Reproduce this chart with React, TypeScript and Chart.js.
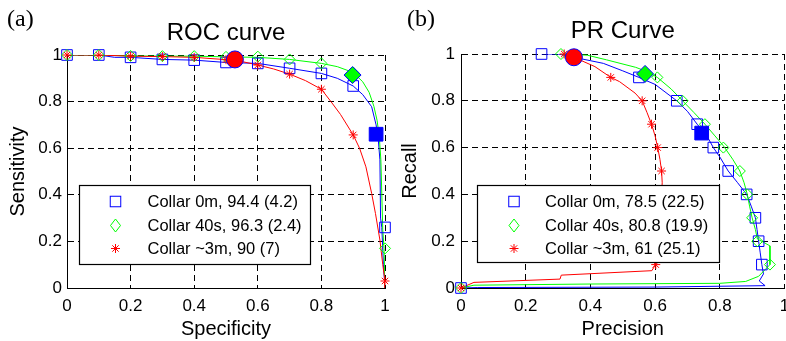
import React, { useEffect, useRef } from 'react';
import { Chart, registerables } from 'chart.js';

Chart.register(...registerables);

const FONT = '"Liberation Sans", Arial, Helvetica, sans-serif';
const SERIF = '"Liberation Serif", "Times New Roman", serif';
const BLUE = '#0000ff';
const GREEN = '#00ff00';
const RED = '#ff0000';

const tickValues = [0, 0.2, 0.4, 0.6, 0.8, 1];

// ---------- ROC panel ----------
const rocMarkerSpec = [0, 0.1, 0.2, 0.3, 0.4, 0.5, 0.6, 0.7, 0.8, 0.9, 1];
const rocBlueMarkerSens = [1, 1, 0.99, 0.981, 0.978, 0.968, 0.964, 0.943, 0.921, 0.867, 0.26];
const rocGreenMarkerSens = [1, 1, 0.996, 0.995, 0.995, 0.992, 0.993, 0.981, 0.964, 0.925, 0.17];
const rocRedMarkerSens = [1, 1, 0.995, 0.993, 0.99, 0.98, 0.957, 0.918, 0.853, 0.657, 0.03];

const rocBlueLineSpec = [0, 0.1, 0.15, 0.2, 0.3, 0.4, 0.5, 0.6, 0.7, 0.8, 0.85, 0.9, 0.93, 0.958, 0.972, 0.979, 0.984, 0.986, 0.99, 0.995, 1];
const rocBlueLineSens = [1, 1, 0.99, 0.99, 0.981, 0.978, 0.968, 0.964, 0.943, 0.921, 0.9, 0.867, 0.83, 0.778, 0.7, 0.635, 0.55, 0.3, 0.26, 0.1, 0];

const rocGreenLineSpec = [0, 0.1, 0.2, 0.3, 0.4, 0.5, 0.6, 0.7, 0.8, 0.85, 0.9, 0.93, 0.95, 0.965, 0.975, 0.982, 0.987, 0.99, 0.993, 0.997, 1];
const rocGreenLineSens = [1, 1, 0.996, 0.995, 0.995, 0.992, 0.99, 0.981, 0.964, 0.95, 0.925, 0.885, 0.84, 0.78, 0.72, 0.65, 0.55, 0.4, 0.25, 0.17, 0];

const rocRedLineSpec = [0, 0.1, 0.2, 0.3, 0.4, 0.5, 0.55, 0.6, 0.65, 0.7, 0.75, 0.8, 0.83, 0.86, 0.9, 0.92, 0.94, 0.958, 0.97, 0.984, 0.993, 1, 1];
const rocRedLineSens = [1, 1, 0.995, 0.993, 0.99, 0.98, 0.972, 0.957, 0.94, 0.918, 0.89, 0.853, 0.8, 0.745, 0.657, 0.6, 0.52, 0.406, 0.32, 0.206, 0.1, 0.03, 0];

// operating points: red, green, blue
const rocOpSpec = [0.528, 0.898, 0.972];
const rocOpSens = [0.981, 0.914, 0.66];

const rocLegend = ['Collar 0m, 94.4 (4.2)', 'Collar 40s, 96.3 (2.4)', 'Collar ~3m, 90 (7)'];

// ---------- PR panel ----------
const prMarkerRecall = [1, 0.9, 0.8, 0.7, 0.6, 0.5, 0.4, 0.3, 0.2, 0.1, 0];
const prBlueMarkerPrec = [0.249, 0.55, 0.667, 0.73, 0.78, 0.826, 0.883, 0.91, 0.92, 0.93, 0];
const prGreenMarkerPrec = [0.309, 0.607, 0.685, 0.754, 0.811, 0.862, 0.885, 0.9, 0.916, 0.955, 0];
const prRedMarkerPrec = [0.319, 0.463, 0.56, 0.589, 0.608, 0.62, 0.62, 0.615, 0.61, 0.602, 0];

const prBlueLinePrec = [0.249, 0.3, 0.349, 0.44, 0.5, 0.55, 0.6, 0.667, 0.7, 0.73, 0.76, 0.78, 0.8, 0.826, 0.855, 0.883, 0.897, 0.91, 0.915, 0.92, 0.925, 0.93, 0.935, 0.922, 0.94, 0.6, 0.05, 0];
const prBlueLineRecall = [1, 1, 0.986, 0.96, 0.928, 0.9, 0.87, 0.8, 0.755, 0.7, 0.65, 0.6, 0.56, 0.5, 0.45, 0.4, 0.35, 0.3, 0.25, 0.2, 0.15, 0.1, 0.06, 0.03, 0.01, 0.004, 0.002, 0];

const prGreenLinePrec = [0.309, 0.39, 0.45, 0.54, 0.575, 0.607, 0.65, 0.685, 0.72, 0.754, 0.785, 0.811, 0.84, 0.862, 0.875, 0.885, 0.892, 0.9, 0.91, 0.916, 0.955, 0.955, 0.92, 0.88, 0.8, 0.4, 0.04, 0];
const prGreenLineRecall = [1, 0.995, 0.975, 0.943, 0.925, 0.9, 0.85, 0.8, 0.75, 0.7, 0.65, 0.608, 0.55, 0.5, 0.45, 0.4, 0.35, 0.3, 0.25, 0.21, 0.18, 0.1, 0.05, 0.028, 0.02, 0.017, 0.012, 0];

const prRedLinePrec = [0.319, 0.349, 0.414, 0.463, 0.49, 0.538, 0.56, 0.575, 0.589, 0.6, 0.608, 0.615, 0.62, 0.622, 0.62, 0.615, 0.61, 0.602, 0.59, 0.31, 0.306, 0.04, 0];
const prRedLineRecall = [1, 0.986, 0.946, 0.9, 0.882, 0.833, 0.8, 0.75, 0.7, 0.65, 0.6, 0.55, 0.5, 0.45, 0.4, 0.3, 0.2, 0.102, 0.074, 0.055, 0.038, 0.024, 0];

const prOpPrec = [0.349, 0.569, 0.744];
const prOpRecall = [0.986, 0.915, 0.662];

const prLegend = ['Collar 0m, 78.5 (22.5)', 'Collar 40s, 80.8 (19.9)', 'Collar ~3m, 61 (25.1)'];

// ---------- helpers ----------
const pts = (xs: number[], ys: number[]) => xs.map((x, i) => ({ x, y: ys[i] }));

type PanelSpec = {
  width: number;
  padTop: number;
  padRight: number;
  yWidth: number;
  xHeight: number;
  yTickPad: number;
  xTickPad: number;
  xTitle: string;
  yTitle: string;
  yTitlePad: number;
  title: string;
  titleY: number;
  letter: string;
  markerX: { blue: number[]; green: number[]; red: number[] };
  markerY: { blue: number[]; green: number[]; red: number[] };
  lines: { blue: [number[], number[]]; green: [number[], number[]]; red: [number[], number[]] };
  opX: number[];
  opY: number[];
  legendLabels: string[];
  legend: { dx: number; dy: number; w: number; h: number; mdx: number; tdx: number; rows: number[] };
};

function drawSquare(ctx: CanvasRenderingContext2D, x: number, y: number, s: number) {
  ctx.strokeRect(x - s / 2, y - s / 2, s, s);
}
function drawDiamond(ctx: CanvasRenderingContext2D, x: number, y: number, hw: number, hh: number) {
  ctx.beginPath();
  ctx.moveTo(x - hw, y);
  ctx.lineTo(x, y - hh);
  ctx.lineTo(x + hw, y);
  ctx.lineTo(x, y + hh);
  ctx.closePath();
  ctx.stroke();
}
function drawStar(ctx: CanvasRenderingContext2D, x: number, y: number, r: number) {
  const d = r * Math.SQRT1_2;
  ctx.beginPath();
  ctx.moveTo(x - r, y); ctx.lineTo(x + r, y);
  ctx.moveTo(x, y - r); ctx.lineTo(x, y + r);
  ctx.moveTo(x - d, y - d); ctx.lineTo(x + d, y + d);
  ctx.moveTo(x - d, y + d); ctx.lineTo(x + d, y - d);
  ctx.stroke();
}

function buildConfig(p: PanelSpec): any {
  const overlay = {
    id: 'overlay_' + p.letter,
    afterDatasetsDraw(chart: any) {
      const ctx: CanvasRenderingContext2D = chart.ctx;
      const ca = chart.chartArea;
      const L = p.legend;
      const lx = Math.round(ca.left + L.dx) + 0.5;
      const ly = Math.round(ca.top + L.dy) + 0.5;
      ctx.save();
      ctx.fillStyle = '#ffffff';
      ctx.fillRect(lx, ly, L.w, L.h);
      ctx.strokeStyle = '#000000';
      ctx.lineWidth = 1.2;
      ctx.strokeRect(lx, ly, L.w, L.h);
      const mx = lx + L.mdx;
      ctx.lineWidth = 1;
      ctx.strokeStyle = BLUE;
      drawSquare(ctx, mx, ly + L.rows[0], 10.5);
      ctx.strokeStyle = GREEN;
      drawDiamond(ctx, mx, ly + L.rows[1], 5, 6.5);
      ctx.strokeStyle = RED;
      drawStar(ctx, mx, ly + L.rows[2], 4.5);
      ctx.fillStyle = '#000000';
      ctx.font = `16.5px ${FONT}`;
      ctx.textAlign = 'left';
      ctx.textBaseline = 'middle';
      p.legendLabels.forEach((t, i) => ctx.fillText(t, lx + L.tdx, ly + L.rows[i] + 0.5));
      ctx.restore();
    },
    afterDraw(chart: any) {
      const ctx: CanvasRenderingContext2D = chart.ctx;
      const ca = chart.chartArea;
      ctx.save();
      ctx.fillStyle = '#000000';
      ctx.font = `24px ${FONT}`;
      ctx.textAlign = 'center';
      ctx.textBaseline = 'alphabetic';
      ctx.fillText(p.title, (ca.left + ca.right) / 2, p.titleY);
      ctx.font = `24px ${SERIF}`;
      ctx.textAlign = 'left';
      ctx.fillText(p.letter, 7, 26);
      ctx.restore();
    },
  };

  const axisCommon = (title: string, titlePad: any, tickPad: number) => ({
    type: 'linear',
    min: 0,
    max: 1,
    afterBuildTicks: (s: any) => {
      s.ticks = tickValues.map((v) => ({ value: v }));
    },
    ticks: {
      font: { family: FONT, size: 17 },
      color: '#000000',
      padding: tickPad,
      maxRotation: 0,
      autoSkip: false,
      callback: (v: number) => String(v),
    },
    grid: { color: '#000000', lineWidth: 1, drawTicks: false },
    border: { display: true, color: '#000000', width: 1, dash: [6, 4] },
    title: {
      display: true,
      text: title,
      color: '#000000',
      font: { family: FONT, size: 20, lineHeight: 1 },
      padding: titlePad,
    },
  });

  return {
    type: 'scatter',
    data: {
      datasets: [
        { data: [{ x: p.opX[0], y: p.opY[0] }], pointStyle: 'circle', pointRadius: 8.5, backgroundColor: RED, borderColor: BLUE, borderWidth: 1, order: 0, clip: false },
        { data: [{ x: p.opX[1], y: p.opY[1] }], pointStyle: 'rectRot', pointRadius: 8.5, backgroundColor: GREEN, borderColor: BLUE, borderWidth: 1, order: 0, clip: false },
        { data: [{ x: p.opX[2], y: p.opY[2] }], pointStyle: 'rect', pointRadius: 9.7, backgroundColor: BLUE, borderColor: BLUE, borderWidth: 1, order: 0, clip: false },
        { data: pts(p.markerX.red, p.markerY.red), pointStyle: 'star', pointRadius: 4.5, backgroundColor: 'rgba(0,0,0,0)', borderColor: RED, borderWidth: 1, order: 1, clip: false },
        { data: pts(p.markerX.green, p.markerY.green), pointStyle: 'rectRot', pointRadius: 5.5, backgroundColor: 'rgba(0,0,0,0)', borderColor: GREEN, borderWidth: 1, order: 2, clip: false },
        { data: pts(p.markerX.blue, p.markerY.blue), pointStyle: 'rect', pointRadius: 7.5, backgroundColor: 'rgba(0,0,0,0)', borderColor: BLUE, borderWidth: 1, order: 3, clip: false },
        { data: pts(p.lines.red[0], p.lines.red[1]), showLine: true, pointRadius: 0, borderColor: RED, borderWidth: 1, tension: 0, order: 4 },
        { data: pts(p.lines.green[0], p.lines.green[1]), showLine: true, pointRadius: 0, borderColor: GREEN, borderWidth: 1, tension: 0, order: 5 },
        { data: pts(p.lines.blue[0], p.lines.blue[1]), showLine: true, pointRadius: 0, borderColor: BLUE, borderWidth: 1, tension: 0, order: 6 },
      ],
    },
    options: {
      responsive: false,
      maintainAspectRatio: false,
      animation: false,
      events: [],
      layout: { padding: { top: p.padTop, right: p.padRight, left: 0, bottom: 0 } },
      plugins: { legend: { display: false }, tooltip: { enabled: false }, title: { display: false } },
      scales: {
        x: {
          ...axisCommon(p.xTitle, { top: 0, bottom: 2 }, p.xTickPad),
          position: 'bottom',
          afterFit: (s: any) => {
            s.height = p.xHeight;
            s.paddingLeft = 0;
            s.paddingRight = 0;
          },
        },
        y: {
          ...axisCommon(p.yTitle, { top: p.yTitlePad, bottom: 0 }, p.yTickPad),
          position: 'left',
          afterFit: (s: any) => {
            s.width = p.yWidth;
            s.paddingTop = 0;
            s.paddingBottom = 0;
          },
        },
      },
    },
    plugins: [overlay],
  };
}

const rocPanel: PanelSpec = {
  width: 400,
  padTop: 55,
  padRight: 15,
  yWidth: 67,
  xHeight: 53,
  yTickPad: 5,
  xTickPad: 8,
  xTitle: 'Specificity',
  yTitle: 'Sensitivity',
  yTitlePad: 8,
  title: 'ROC curve',
  titleY: 40,
  letter: '(a)',
  markerX: { blue: rocMarkerSpec, green: rocMarkerSpec, red: rocMarkerSpec },
  markerY: { blue: rocBlueMarkerSens, green: rocGreenMarkerSens, red: rocRedMarkerSens },
  lines: {
    blue: [rocBlueLineSpec, rocBlueLineSens],
    green: [rocGreenLineSpec, rocGreenLineSens],
    red: [rocRedLineSpec, rocRedLineSens],
  },
  opX: rocOpSpec,
  opY: rocOpSens,
  legendLabels: rocLegend,
  legend: { dx: 12, dy: 130, w: 231, h: 79, mdx: 36, tdx: 68, rows: [16, 40, 63] },
};

// The PR canvas is wider than the visible page; its right part (x=1 label) is cut by the page edge as in the reference
const prPanel: PanelSpec = {
  width: 400,
  padTop: 54,
  padRight: 15.5,
  yWidth: 61,
  xHeight: 53,
  yTickPad: 6,
  xTickPad: 8,
  xTitle: 'Precision',
  yTitle: 'Recall',
  yTitlePad: 0,
  title: 'PR Curve',
  titleY: 38,
  letter: '(b)',
  markerX: { blue: prBlueMarkerPrec, green: prGreenMarkerPrec, red: prRedMarkerPrec },
  markerY: { blue: prMarkerRecall, green: prMarkerRecall, red: prMarkerRecall },
  lines: {
    blue: [prBlueLinePrec, prBlueLineRecall],
    green: [prGreenLinePrec, prGreenLineRecall],
    red: [prRedLinePrec, prRedLineRecall],
  },
  opX: prOpPrec,
  opY: prOpRecall,
  legendLabels: prLegend,
  legend: { dx: 16, dy: 131, w: 242, h: 77, mdx: 36.5, tdx: 67.5, rows: [16, 40, 63] },
};

function Panel({ spec, left }: { spec: PanelSpec; left: number }) {
  const ref = useRef<HTMLCanvasElement>(null);
  useEffect(() => {
    if (!ref.current) return;
    const chart = new Chart(ref.current, buildConfig(spec));
    return () => chart.destroy();
  }, [spec]);
  return (
    <canvas
      ref={ref}
      width={spec.width}
      height={341}
      style={{ position: 'absolute', left, top: 0, width: spec.width, height: 341 }}
    />
  );
}

export default function App() {
  return (
    <div
      style={{
        position: 'absolute',
        left: 0,
        top: 0,
        width: 786,
        height: 341,
        overflow: 'hidden',
        background: '#ffffff',
      }}
    >
      <Panel spec={rocPanel} left={0} />
      <Panel spec={prPanel} left={400} />
    </div>
  );
}
